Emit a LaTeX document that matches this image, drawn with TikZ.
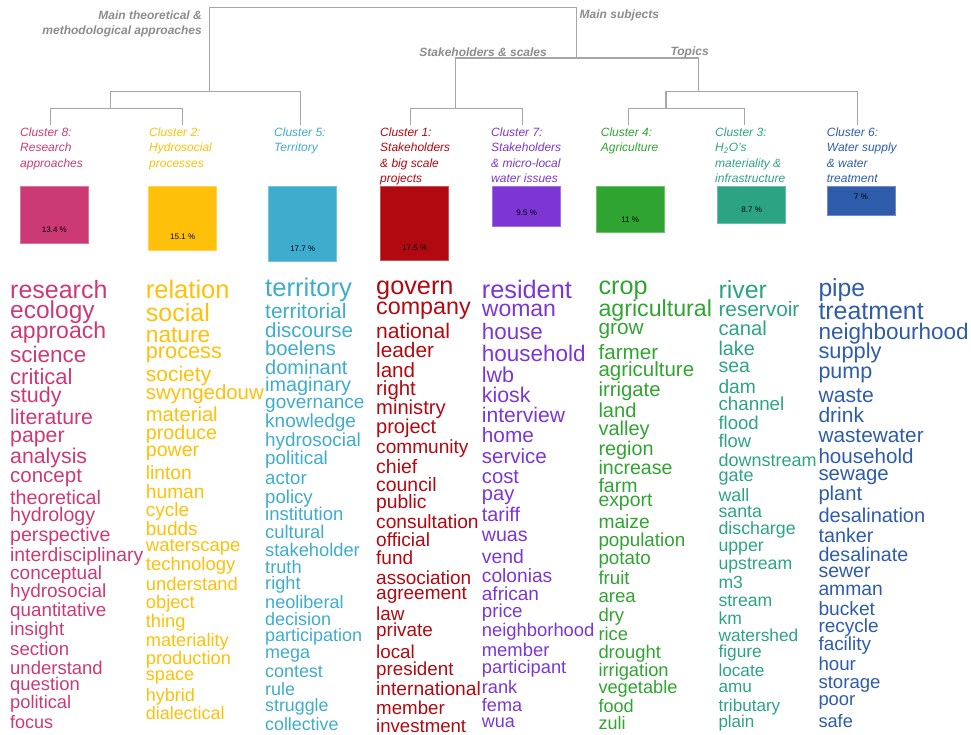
\documentclass[tikz,border=0pt]{standalone}
\usepackage{fontspec}
\setmainfont{Liberation Sans}
\usetikzlibrary{positioning}

\definecolor{cl8}{RGB}{204,58,118}
\definecolor{cl2}{RGB}{255,192,10}
\definecolor{cl5}{RGB}{62,172,204}
\definecolor{cl1}{RGB}{178,8,16}
\definecolor{cl7}{RGB}{124,54,212}
\definecolor{cl4}{RGB}{48,164,48}
\definecolor{cl3}{RGB}{44,164,132}
\definecolor{cl6}{RGB}{46,92,170}

\begin{document}
\begin{tikzpicture}[%
    x=1pt, y=-1pt,                      % one unit per pixel, y grows downwards
    tree/.style={draw=gray!70, line width=1.1pt},
    ]
% -------------------------------------------------
% Styles for labels, boxes and word lists
\tikzset{
  grp/.style={font=\bfseries\itshape\fontsize{12}{15.3}\selectfont, text=gray!90, inner sep=0pt},
  lab/.style={font=\itshape\fontsize{12}{15.3}\selectfont, text=#1, align=left, anchor=north west, inner sep=0pt},
  clbox/.style={fill=#1, draw=#1!70!white, line width=0.8pt, anchor=north west, minimum width=68pt, inner sep=0pt},
  pct/.style={font=\fontsize{8}{8}\selectfont, text=black, inner sep=0pt},
  word/.style={text=#1, anchor=base west, inner sep=0pt},
}
\useasboundingbox (0,0) rectangle (971,735);

% -------------------------------------------------
% Dendrogram: leaves, junctions and root
\coordinate (k8) at (50.7,125);
\coordinate (k2) at (182.7,125);
\coordinate (k5) at (300.7,125);
\coordinate (k1) at (410.7,125);
\coordinate (k7) at (522.3,125);
\coordinate (k4) at (628.3,125);
\coordinate (k3) at (744.3,125);
\coordinate (k6) at (857.7,125);

\coordinate (j82)  at (110.2,108.3);
\coordinate (j825) at (209.3,91.7);
\coordinate (j17)  at (455.3,108.3);
\coordinate (j43)  at (666,108.3);
\coordinate (j436) at (698.8,91.7);
\coordinate (jsub) at (576.7,58);
\coordinate (root) at (400,7.3);

\draw [tree] (k8) |- (j82) -| (k2);
\draw [tree] (j82) |- (j825) -| (k5);
\draw [tree] (k1) |- (j17) -| (k7);
\draw [tree] (k4) |- (j43) -| (k3);
\draw [tree] (j43) |- (j436) -| (k6);
\draw [tree] (j17) |- (jsub) -| (j436);
\draw [tree] (j825) |- (root) -| (jsub);

\node [grp, align=right, anchor=east] (gtheo) at (202,23.6)
  {Main theoretical \&\\methodological approaches};
\node [grp, anchor=west] (gsubj) at (579.5,15.8) {Main subjects};
\node [grp, anchor=east] (gstake) at (547,52) {Stakeholders \& scales};
\node [grp, anchor=west] (gtopic) at (670.3,52) {Topics};

% -------------------------------------------------
% Cluster names
\node [lab=cl8] (l8) at (20,127.6)    {Cluster 8:\\Research\\approaches};
\node [lab=cl2] (l2) at (149,127.6)   {Cluster 2:\\Hydrosocial\\processes};
\node [lab=cl5] (l5) at (274,127.6)   {Cluster 5:\\Territory};
\node [lab=cl1] (l1) at (380,127.6)   {Cluster 1:\\Stakeholders\\\& big scale\\projects};
\node [lab=cl7] (l7) at (491,127.6)   {Cluster 7:\\Stakeholders\\\& micro-local\\water issues};
\node [lab=cl4] (l4) at (600.7,127.6) {Cluster 4:\\Agriculture};
\node [lab=cl3] (l3) at (715,127.6)   {Cluster 3:\\H\textsubscript{2}O's\\materiality \&\\infrastructure};
\node [lab=cl6] (l6) at (826.7,127.6) {Cluster 6:\\Water supply\\\& water\\treatment};

% -------------------------------------------------
% Cluster sizes
\node [clbox=cl8, minimum height=57pt]   (b8) at (20,185.7) {};
\node [clbox=cl2, minimum height=64.3pt] (b2) at (148.3,185.7) {};
\node [clbox=cl5, minimum height=75.3pt] (b5) at (268.3,185.7) {};
\node [clbox=cl1, minimum height=74.6pt] (b1) at (380.3,185.7) {};
\node [clbox=cl7, minimum height=40.3pt] (b7) at (492.3,185.7) {};
\node [clbox=cl4, minimum height=46.6pt] (b4) at (595.7,185.7) {};
\node [clbox=cl3, minimum height=37pt]   (b3) at (717.3,185.7) {};
\node [clbox=cl6, minimum height=29.6pt] (b6) at (826.7,185.7) {};

\node [pct] (p8) at ([yshift=13.7pt]b8.south) {13.4 \%};
\node [pct] (p2) at ([yshift=14pt]b2.south)   {15.1 \%};
\node [pct] (p5) at ([yshift=13.3pt]b5.south) {17.7 \%};
\node [pct] (p1) at ([yshift=13.6pt]b1.south) {17.5 \%};
\node [pct] (p7) at ([yshift=14pt]b7.south)   {9.5 \%};
\node [pct] (p4) at ([yshift=13.6pt]b4.south) {11 \%};
\node [pct] (p3) at ([yshift=13.7pt]b3.south) {8.7 \%};
\node [pct] (p6) at ([yshift=-11.3pt]b6.north) {7 \%};

% -------------------------------------------------
% Word lists: y (middle of lower case) / size / word
\foreach \y/\s/\w [count=\i] in {291.7/25/research, 311.7/24.5/ecology,
    332.7/23/approach, 356.7/22.5/science, 378.3/22/critical, 396.7/21.5/study,
    419.3/21.3/literature, 436.7/21.3/paper, 458.3/21.3/analysis,
    477.3/20.5/concept, 499.3/19.7/theoretical, 516.7/19.6/hydrology,
    536.7/19.6/perspective, 556.7/19.3/interdisciplinary, 574.3/19/conceptual,
    592.3/19/hydrosocial, 611.7/18.8/quantitative, 630.7/18.7/insight,
    650.7/18.6/section, 669.3/18.5/understand, 685.7/18.4/question,
    704/18.3/political, 724/18/focus}
  \node [word=cl8, font=\fontsize{\s}{\s}\selectfont] (w8-\i) at (10,{\y+0.26*\s}) {\w};

\foreach \y/\s/\w [count=\i] in {291.7/25.5/relation, 315/25/social,
    336.7/22.7/nature, 352.7/21.7/process, 376/21/society, 394.3/20.4/swyngedouw,
    416/20.2/material, 434/19.7/produce, 451.7/19.6/power, 474.3/19.2/linton,
    493.3/19.2/human, 511.7/19/cycle, 531/19/budds, 546.7/18.5/waterscape,
    566/18.5/technology, 586/18.4/understand, 604/18.3/object, 622.7/18.3/thing,
    641.7/18.2/materiality, 659.3/18.2/production, 676/18.1/space,
    696.7/18/hybrid, 715/17.9/dialectical}
  \node [word=cl2, font=\fontsize{\s}{\s}\selectfont] (w2-\i) at (145.7,{\y+0.26*\s}) {\w};

\foreach \y/\s/\w [count=\i] in {290/25.6/territory, 312.7/20.9/territorial,
    331.7/20.5/discourse, 350.7/20.2/boelens, 369.3/20/dominant,
    386.7/19.8/imaginary, 403.3/19/governance, 422.7/19/knowledge,
    441.7/18.9/hydrosocial, 460/18.8/political, 480/18.7/actor, 498.3/18.6/policy,
    516/18.5/institution, 534/18.4/cultural, 551.7/18.3/stakeholder,
    569/18.2/truth, 585/18.2/right, 604/18.1/neoliberal, 620.7/18/decision,
    637.3/18/participation, 654/18/mega, 673.3/17.9/contest, 691/17.9/rule,
    707.3/17.8/struggle, 726/17.8/collective}
  \node [word=cl5, font=\fontsize{\s}{\s}\selectfont] (w5-\i) at (265,{\y+0.26*\s}) {\w};

\foreach \y/\s/\w [count=\i] in {288.3/25.3/govern, 308.3/23.3/company,
    333.3/21.1/national, 351.7/20.8/leader, 371.7/20.6/land, 390/20.4/right,
    409.3/20.2/ministry, 428.3/20/project, 448.3/19.1/community,
    468.3/19.5/chief, 486.7/19.4/council, 503.3/19.3/public,
    523.3/19.2/consultation, 541.7/19.1/official, 560/19/fund,
    579.3/19/association, 595/19/agreement, 616/18.9/law, 631.7/18.9/private,
    653.3/18.8/local, 670.7/18.8/president, 690.7/19.2/international,
    709.3/18.7/member, 727.3/18.6/investment}
  \node [word=cl1, font=\fontsize{\s}{\s}\selectfont] (w1-\i) at (376,{\y+0.26*\s}) {\w};

\foreach \y/\s/\w [count=\i] in {291.7/25.3/resident, 310.7/23/woman,
    334/22.4/house, 356/22.5/household, 377.3/21.5/lwb, 396.7/21.3/kiosk,
    416.7/21.1/interview, 436.7/20.8/home, 458.3/20.5/service, 478.3/20.3/cost,
    495/20.1/pay, 516.7/19.8/tariff, 536/19.6/wuas, 558.3/19.4/vend,
    577.3/19.2/colonias, 596/19/african, 612.7/18.8/price,
    631.7/18.4/neighborhood, 651.7/18.4/member, 668.3/18.3/participant,
    688.3/18.2/rank, 706.7/18.1/fema, 723.3/18/wua}
  \node [word=cl7, font=\fontsize{\s}{\s}\selectfont] (w7-\i) at (481.7,{\y+0.26*\s}) {\w};

\foreach \y/\s/\w [count=\i] in {288.3/25.2/crop, 310/23.2/agricultural,
    329.3/20.8/grow, 354/20.7/farmer, 370.7/20.5/agriculture,
    391.7/20.3/irrigate, 412.7/20.1/land, 430.7/20/valley, 450/19.8/region,
    469.3/19.6/increase, 487.3/19.5/farm, 501.7/19.4/export, 524/19.2/maize,
    541.7/18.8/population, 559.3/18.8/potato, 579.3/18.7/fruit, 597.3/18.6/area,
    616.7/18.5/dry, 636/18.4/rice, 653.3/18.4/drought, 671.7/18.3/irrigation,
    688.3/18.2/vegetable, 707.3/18.1/food, 725/18/zuli}
  \node [word=cl4, font=\fontsize{\s}{\s}\selectfont] (w4-\i) at (598.3,{\y+0.26*\s}) {\w};

\foreach \y/\s/\w [count=\i] in {291.7/24.9/river, 310.7/20.8/reservoir,
    330.7/20.2/canal, 350/19.8/lake, 367.7/19.5/sea, 388.3/19.2/dam,
    406/18.8/channel, 424.3/18.6/flood, 442.7/18.4/flow, 461.7/18/downstream,
    477.3/18/gate, 496.7/17.9/wall, 513.3/17.8/santa, 530/17.8/discharge,
    546.7/17.7/upper, 565/17.7/upstream, 584/17.6/m3, 601.7/17.6/stream,
    620/17.5/km, 636.7/17.3/watershed, 653.3/17.3/figure, 672.3/17.2/locate,
    688.3/17.2/amu, 706.7/17.1/tributary, 723.3/17/plain}
  \node [word=cl3, font=\fontsize{\s}{\s}\selectfont] (w3-\i) at (718.3,{\y+0.26*\s}) {\w};

\foreach \y/\s/\w [count=\i] in {290/24.7/pipe, 313.3/24.9/treatment,
    333.3/22.5/neighbourhood, 353.3/21.8/supply, 373.3/21.5/pump,
    396.7/21.2/waste, 416.7/21/drink, 436.7/20.8/wastewater,
    458.3/20.6/household, 475/20.4/sewage, 495/20.2/plant,
    517.3/20/desalination, 537.3/19.8/tanker, 556/19.7/desalinate,
    572.7/19.5/sewer, 590.7/19.3/amman, 610.7/19.2/bucket, 627.3/19/recycle,
    646/18.9/facility, 666/18.7/hour, 683.3/18.6/storage, 701/18.4/poor,
    722.7/18.2/safe}
  \node [word=cl6, font=\fontsize{\s}{\s}\selectfont] (w6-\i) at (818.3,{\y+0.26*\s}) {\w};

% -------------------------------------------------
\end{tikzpicture}
\end{document}
